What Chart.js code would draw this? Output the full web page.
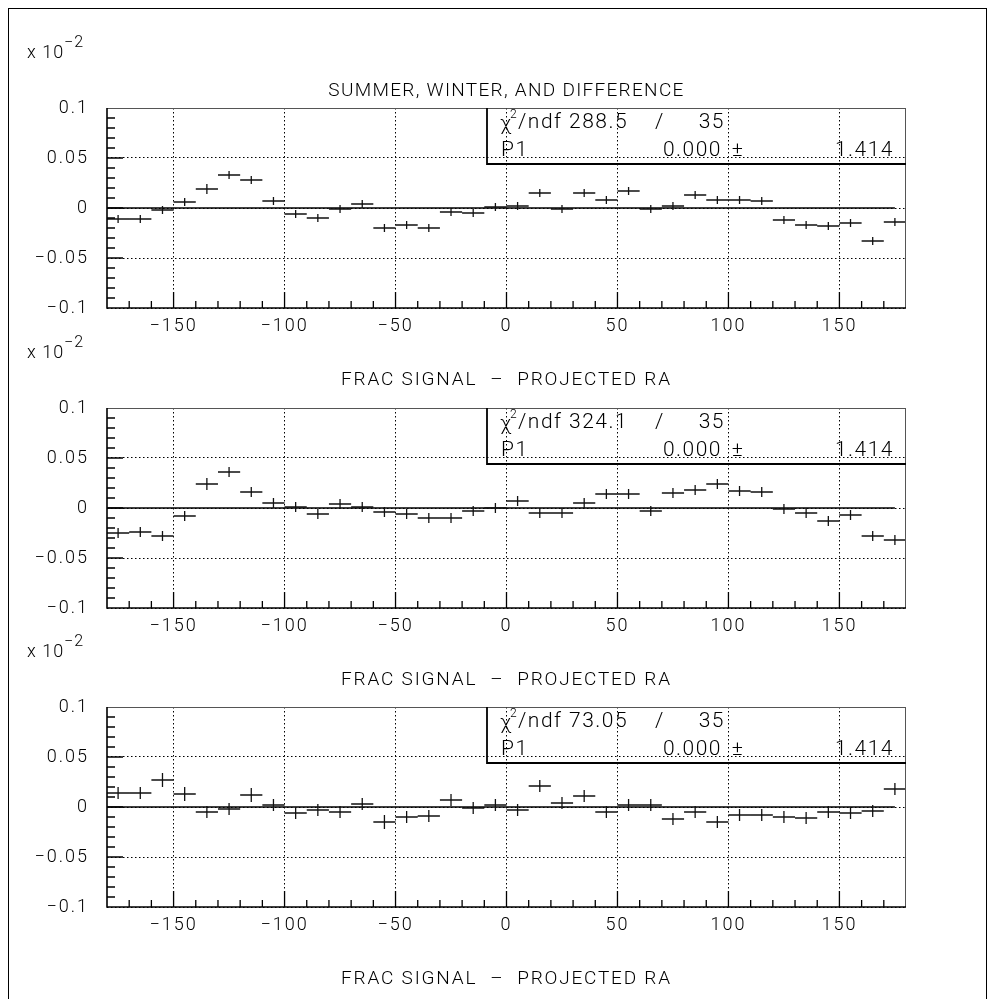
<!DOCTYPE html>
<html>
<head>
<meta charset="utf-8">
<title>Summer, winter, and difference</title>
<script src="https://cdn.jsdelivr.net/npm/chart.js@4.4.1/dist/chart.umd.min.js"></script>
<style>
  html, body { margin: 0; padding: 0; background: #fff; }
  body { width: 994px; height: 999px; position: relative; overflow: hidden; }
  #frame { position: absolute; left: 8px; top: 8px; width: 977px; height: 1100px; border: 1px solid #000; }
  canvas { position: absolute; left: 0; }
</style>
</head>
<body>
<div id="frame"></div>
<canvas id="p0" width="994" height="400" style="top:0px"></canvas>
<canvas id="p1" width="994" height="400" style="top:300px"></canvas>
<canvas id="p2" width="994" height="400" style="top:599px"></canvas>
<script>
// Projected RA bin centres (degrees); each bin is 10 degrees wide
const binCenters = [-175, -165, -155, -145, -135, -125, -115, -105, -95, -85, -75, -65,
                    -55, -45, -35, -25, -15, -5, 5, 15, 25, 35, 45, 55,
                    65, 75, 85, 95, 105, 115, 125, 135, 145, 155, 165, 175];
const binHalfWidth = 5;

// Fractional signal (units of 10^-2)
const summer = [-0.011, -0.011, -0.002, 0.006, 0.019, 0.033, 0.028, 0.007, -0.006, -0.010, -0.001, 0.004,
                -0.020, -0.017, -0.020, -0.004, -0.005, 0.001, 0.002, 0.015, -0.001, 0.015, 0.008, 0.017,
                -0.001, 0.002, 0.013, 0.008, 0.008, 0.007, -0.012, -0.017, -0.018, -0.015, -0.033, -0.014];
const summerErr = [0.004, 0.004, 0.004, 0.004, 0.005, 0.004, 0.004, 0.004, 0.004, 0.004, 0.004, 0.004,
                   0.004, 0.004, 0.004, 0.004, 0.004, 0.004, 0.004, 0.004, 0.004, 0.004, 0.004, 0.004,
                   0.004, 0.004, 0.004, 0.004, 0.004, 0.004, 0.004, 0.004, 0.004, 0.004, 0.004, 0.004];

const winter = [-0.025, -0.024, -0.028, -0.008, 0.024, 0.036, 0.016, 0.005, 0.001, -0.006, 0.004, 0.001,
                -0.004, -0.006, -0.010, -0.010, -0.003, 0.000, 0.007, -0.005, -0.005, 0.005, 0.014, 0.014,
                -0.003, 0.015, 0.018, 0.024, 0.017, 0.016, -0.001, -0.005, -0.013, -0.007, -0.028, -0.032];
const winterErr = [0.005, 0.005, 0.005, 0.005, 0.006, 0.005, 0.005, 0.005, 0.005, 0.005, 0.005, 0.005,
                   0.005, 0.005, 0.005, 0.005, 0.005, 0.005, 0.005, 0.005, 0.005, 0.005, 0.005, 0.005,
                   0.005, 0.005, 0.005, 0.005, 0.005, 0.005, 0.005, 0.005, 0.005, 0.005, 0.005, 0.005];

const difference = [0.014, 0.014, 0.027, 0.013, -0.005, -0.002, 0.012, 0.002, -0.006, -0.003, -0.005, 0.003,
                    -0.015, -0.010, -0.009, 0.007, -0.001, 0.002, -0.003, 0.021, 0.004, 0.011, -0.005, 0.002,
                    0.002, -0.012, -0.005, -0.015, -0.008, -0.008, -0.010, -0.011, -0.005, -0.006, -0.004, 0.018];
const differenceErr = [0.006, 0.006, 0.007, 0.007, 0.006, 0.006, 0.007, 0.006, 0.006, 0.006, 0.006, 0.006,
                       0.007, 0.006, 0.006, 0.006, 0.006, 0.006, 0.006, 0.006, 0.006, 0.006, 0.006, 0.006,
                       0.006, 0.006, 0.006, 0.006, 0.006, 0.006, 0.006, 0.006, 0.006, 0.006, 0.006, 0.006];

// Constant-fit results per panel
const fitChi2 = ['288.5', '324.1', '73.05'];
const fitNdf = ['35', '35', '35'];
const fitP1 = [0.000, 0.000, 0.000];
const fitP1Text = ['0.000', '0.000', '0.000'];
const fitP1Err = ['1.414', '1.414', '1.414'];
const fitRange = [-180, 175];

// Axes
const xRange = [-180, 180];
const xTicks = [-150, -100, -50, 0, 50, 100, 150];
const xTickLabels = ['\u2212150', '\u2212100', '\u221250', '0', '50', '100', '150'];
const yRange = [-0.1, 0.1];
const yTicks = [-0.1, -0.05, 0, 0.05, 0.1];
const yTickLabels = ['\u22120.1', '\u22120.05', '0', '0.05', '0.1'];
const xMinorStep = 10;
const yMinorStep = 0.01;

const plotTitle = 'SUMMER, WINTER, AND DIFFERENCE';
const xAxisTitle = 'FRAC SIGNAL  \u2013  PROJECTED RA';

const FONT = '"Roboto", "Liberation Sans", sans-serif';
const font = (size) => `300 ${size}px ${FONT}`;

const panels = [
  { id: 'p0', values: summer, errors: summerErr, title: plotTitle },
  { id: 'p1', values: winter, errors: winterErr, title: null },
  { id: 'p2', values: difference, errors: differenceErr, title: null }
];

// Draws error crosses, frame, inner ticks, labels and the fit statistics box
const panelDecor = {
  id: 'panelDecor',
  beforeDraw(chart) {
    // wide letter spacing for the tick labels drawn by the scales
    chart.ctx.letterSpacing = '2px';
  },
  afterDatasetsDraw(chart, args, opts) {
    const { ctx, scales: { x, y } } = chart;
    const pts = chart.data.datasets[1].data;
    ctx.save();
    ctx.strokeStyle = '#111';
    ctx.lineWidth = 1.3;
    ctx.beginPath();
    pts.forEach(p => {
      const px = x.getPixelForValue(p.x), py = y.getPixelForValue(p.y);
      ctx.moveTo(x.getPixelForValue(p.x - p.ex), py);
      ctx.lineTo(x.getPixelForValue(p.x + p.ex), py);
      ctx.moveTo(px, y.getPixelForValue(p.y - p.ey));
      ctx.lineTo(px, y.getPixelForValue(p.y + p.ey));
    });
    ctx.stroke();
    ctx.restore();
  },
  afterDraw(chart, args, opts) {
    const { ctx, chartArea: a, scales: { x, y } } = chart;
    ctx.save();
    // frame
    ctx.strokeStyle = '#555';
    ctx.lineWidth = 1;
    ctx.beginPath();
    ctx.moveTo(a.left, a.top + 0.5); ctx.lineTo(a.right, a.top + 0.5);
    ctx.moveTo(a.right - 0.5, a.top); ctx.lineTo(a.right - 0.5, a.bottom);
    ctx.stroke();
    ctx.strokeStyle = '#000';
    ctx.lineWidth = 1.6;
    ctx.beginPath();
    ctx.moveTo(a.left, a.top); ctx.lineTo(a.left, a.bottom); ctx.lineTo(a.right, a.bottom);
    ctx.stroke();

    // inner ticks
    ctx.lineWidth = 1.3;
    ctx.beginPath();
    for (let v = xRange[0] + xMinorStep; v < xRange[1] - 1e-9; v += xMinorStep) {
      const major = Math.abs(v % 50) < 1e-9;
      const px = x.getPixelForValue(v);
      ctx.moveTo(px, a.bottom);
      ctx.lineTo(px, a.bottom - (major ? 16 : 7));
    }
    for (let k = 1; k < Math.round((yRange[1] - yRange[0]) / yMinorStep); k++) {
      const v = yRange[0] + k * yMinorStep;
      const major = k % 5 === 0;
      const py = y.getPixelForValue(v);
      ctx.moveTo(a.left, py);
      ctx.lineTo(a.left + (major ? 16 : 8), py);
    }
    ctx.stroke();

    ctx.fillStyle = '#000';
    // exponent label
    ctx.font = font(18);
    ctx.letterSpacing = '1px';
    ctx.textAlign = 'left';
    ctx.textBaseline = 'alphabetic';
    ctx.fillText('x 10', 27, a.top - 50);
    ctx.font = font(16);
    ctx.fillText('\u22122', 64, a.top - 61);

    // title
    if (opts.title) {
      ctx.font = font(19);
      ctx.textAlign = 'center';
      ctx.textBaseline = 'middle';
      ctx.letterSpacing = '1.3px';
      ctx.fillText(opts.title, (a.left + a.right) / 2, a.top - 17);
    }

    // x axis title
    ctx.font = font(19);
    ctx.textAlign = 'center';
    ctx.textBaseline = 'middle';
    ctx.letterSpacing = '1.8px';
    ctx.fillText(xAxisTitle, (a.left + a.right) / 2, a.bottom + 72);

    // statistics box
    const bx = 487, bh = 56;
    ctx.lineWidth = 1.8;
    ctx.strokeStyle = '#000';
    ctx.beginPath();
    ctx.moveTo(bx, a.top);
    ctx.lineTo(bx, a.top + bh);
    ctx.lineTo(a.right, a.top + bh);
    ctx.stroke();
    const r1 = a.top + 15, r2 = a.top + 43;
    ctx.letterSpacing = '1.5px';
    ctx.font = font(21);
    ctx.textBaseline = 'middle';
    ctx.textAlign = 'left';
    ctx.fillText('\u03C7', 500, r1 + 2);
    ctx.font = font(12);
    ctx.fillText('2', 510, r1 - 8);
    ctx.font = font(21);
    ctx.fillText('/ndf', 518, r1);
    ctx.fillText(opts.chi2, 569, r1);
    ctx.textAlign = 'center';
    ctx.fillText('/', 660, r1);
    ctx.textAlign = 'right';
    ctx.fillText(opts.ndf, 725, r1);
    ctx.textAlign = 'left';
    ctx.fillText('P1', 501, r2);
    ctx.textAlign = 'right';
    ctx.fillText(opts.p1, 722, r2);
    ctx.textAlign = 'center';
    ctx.fillText('\u00B1', 738, r2);
    ctx.textAlign = 'right';
    ctx.fillText(opts.p1err, 894, r2);
    ctx.restore();
  }
};

panels.forEach((panel, i) => {
  const points = binCenters.map((c, k) => ({ x: c, y: panel.values[k], ex: binHalfWidth, ey: panel.errors[k] }));
  const fitLine = fitRange.map(v => ({ x: v, y: fitP1[i] }));
  new Chart(document.getElementById(panel.id), {
    type: 'scatter',
    data: {
      datasets: [
        { data: fitLine, showLine: true, borderColor: '#000', borderWidth: 1.5, pointRadius: 0, fill: false },
        { data: points, pointRadius: 0, showLine: false }
      ]
    },
    options: {
      responsive: false,
      animation: false,
      devicePixelRatio: 1,
      events: [],
      layout: { padding: { left: 0, right: 88, top: 108, bottom: 0 } },
      plugins: {
        legend: { display: false },
        tooltip: { enabled: false },
        panelDecor: {
          title: panel.title,
          chi2: fitChi2[i], ndf: fitNdf[i], p1: fitP1Text[i], p1err: fitP1Err[i]
        }
      },
      scales: {
        x: {
          type: 'linear',
          min: xRange[0], max: xRange[1],
          afterBuildTicks: s => { s.ticks = xTicks.map(v => ({ value: v })); },
          afterFit: s => { s.height = 92; },
          grid: { color: '#000', lineWidth: 1, drawTicks: false },
          border: { display: false, dash: [1.5, 2.5] },
          ticks: {
            padding: 8, color: '#000',
            font: { family: FONT, size: 18, weight: 300 },
            maxRotation: 0,
            callback: (v) => xTickLabels[xTicks.indexOf(v)]
          }
        },
        y: {
          type: 'linear',
          min: yRange[0], max: yRange[1],
          afterBuildTicks: s => { s.ticks = yTicks.map(v => ({ value: v })); },
          afterFit: s => { s.width = 107; },
          grid: { color: '#000', lineWidth: 1, drawTicks: false },
          border: { display: false, dash: [1.5, 2.5] },
          ticks: {
            padding: 18, color: '#000',
            font: { family: FONT, size: 18, weight: 300 },
            callback: (v) => yTickLabels[yTicks.findIndex(t => Math.abs(t - v) < 1e-9)]
          }
        }
      }
    },
    plugins: [panelDecor]
  });
});
</script>
</body>
</html>
